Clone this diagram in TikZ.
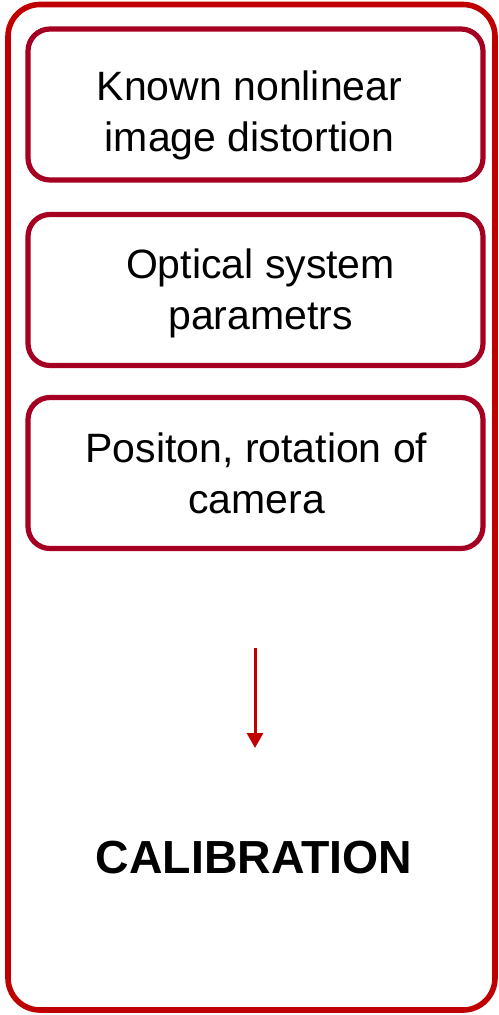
\documentclass[tikz,border=0pt]{standalone}
\usepackage{fontspec}
\setmainfont{Liberation Sans}
\usetikzlibrary{arrows.meta}
\definecolor{framered}{HTML}{C00000}
\definecolor{boxred}{HTML}{A50021}
\tikzset{
  itembox/.style={draw=boxred,line width=2.6pt,rounded corners=11pt,
    minimum width=227.5pt,minimum height=75.5pt,inner sep=0pt},
  itemtext/.style={inner sep=0pt,align=center,font=\fontsize{20.5}{25.5}\selectfont},
}
\begin{document}
\begin{tikzpicture}[x=0.5pt,y=-0.5pt]
    \useasboundingbox (0,0) rectangle (498,1015);
    % outer frame
    \draw[framered,line width=2.8pt,rounded corners=16pt] (8,4.5) rectangle (495,1010);
    \foreach \y/\name/\dx/\dy/\txt in {104.5/known/-3/-5.5/{Known nonlinear\\image distortion},
                              290/optics/2.5/-1.5/{Optical system\\parametrs},
                              473/camera/0.5/0/{Positon, rotation of\\camera}}{
      \node[itembox] (\name) at (255.5,\y) {};
      \node[itemtext] (\name-text) at ([xshift=\dx pt,yshift=\dy pt]\name.center) {\txt};
    }
    \coordinate (arrowtop) at (255,648);
    \coordinate (arrowtip) at (255,748);
    \node[font=\fontsize{23.2}{27}\selectfont\bfseries,inner sep=0pt] (calib) at (254,858) {CALIBRATION};
    \draw[framered,line width=1.5pt,-{Triangle[width=8pt,length=7.5pt]}] (arrowtop) -- (arrowtip);
\end{tikzpicture}
\end{document}
